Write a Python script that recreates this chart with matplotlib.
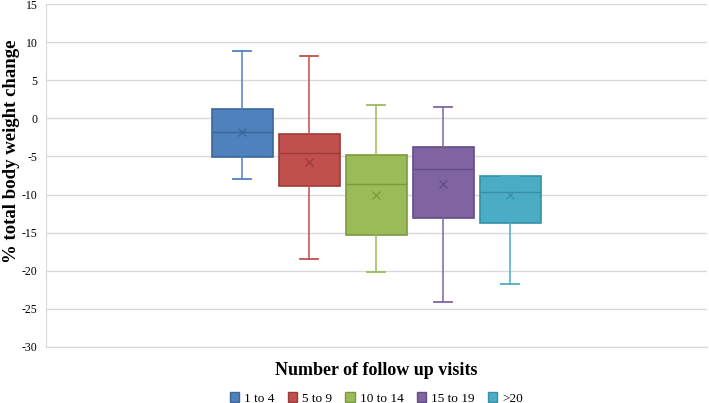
import matplotlib
matplotlib.use("Agg")
import matplotlib.pyplot as plt
import matplotlib.patches as mpatches

# valores (por grupo de visitas)
grupos = ["1 to 4", "5 to 9", "10 to 14", "15 to 19", ">20"]
bigote_sup = [8.9, 8.2, 1.75, 1.55, -7.5]
q3 = [1.2, -2.1, -4.8, -3.7, -7.6]
mediana = [-1.85, -4.6, -8.6, -6.65, -9.7]
media = [-1.85, -5.7, -10.0, -8.6, -10.0]
q1 = [-5.1, -8.9, -15.3, -13.05, -13.7]
bigote_inf = [-7.9, -18.5, -20.1, -24.05, -21.75]

relleno = ["#4F81BD", "#C0504D", "#9BBB59", "#8064A2", "#4BACC6"]
borde = ["#3A6699", "#9B3B38", "#7A9A3E", "#644C85", "#3590A8"]

plt.rcParams["font.family"] = ["Liberation Serif", "DejaVu Serif"]
plt.rcParams["axes.unicode_minus"] = False

fig = plt.figure(figsize=(7.09, 4.03), dpi=100)
ax = fig.add_axes([0.0649, 0.139, 0.932, 0.851])

for i in range(len(grupos)):
    stats = [{"med": mediana[i], "q1": q1[i], "q3": q3[i],
              "whislo": bigote_inf[i], "whishi": bigote_sup[i],
              "mean": media[i], "fliers": []}]
    ax.bxp(stats, positions=[i], widths=0.9, patch_artist=True, showmeans=True,
           showfliers=False,
           boxprops=dict(facecolor=relleno[i], edgecolor=borde[i], linewidth=1.2),
           medianprops=dict(color=borde[i], linewidth=1.0),
           whiskerprops=dict(color=relleno[i], linewidth=1.1),
           capprops=dict(color=relleno[i], linewidth=1.3),
           capwidths=0.27,
           meanprops=dict(marker="x", markeredgecolor=borde[i], markersize=6,
                          markeredgewidth=0.9),
           zorder=3)

ax.set_xlim(-2.93, 6.93)
ax.set_ylim(-30, 15)
ax.set_yticks(range(-30, 16, 5))
ax.set_xticks([])
ax.yaxis.grid(True, color="#D9D9D9", linewidth=1.0, zorder=0)
ax.set_axisbelow(True)
for lado in ["top", "right"]:
    ax.spines[lado].set_visible(False)
ax.spines["left"].set_color("#D9D9D9")
ax.spines["bottom"].set_color("#D9D9D9")
ax.tick_params(axis="y", length=0, labelsize=8.5, pad=6)

ax.set_ylabel("% total body weight change", fontsize=13.5, fontweight="bold")
ax.yaxis.set_label_coords(-0.04, 0.57)
fig.text(0.531, 0.08, "Number of follow up visits", ha="center", va="center",
         fontsize=13, fontweight="bold")

ax.legend(handles=[mpatches.Patch(facecolor=relleno[i], edgecolor=borde[i], label=grupos[i])
                   for i in range(len(grupos))],
          loc="center", bbox_to_anchor=(0.5, -0.15), ncol=5, frameon=False,
          fontsize=9.5, handlelength=0.7, handleheight=0.7, handletextpad=0.4,
          columnspacing=1.0)

fig.savefig("out.png", dpi=100)
